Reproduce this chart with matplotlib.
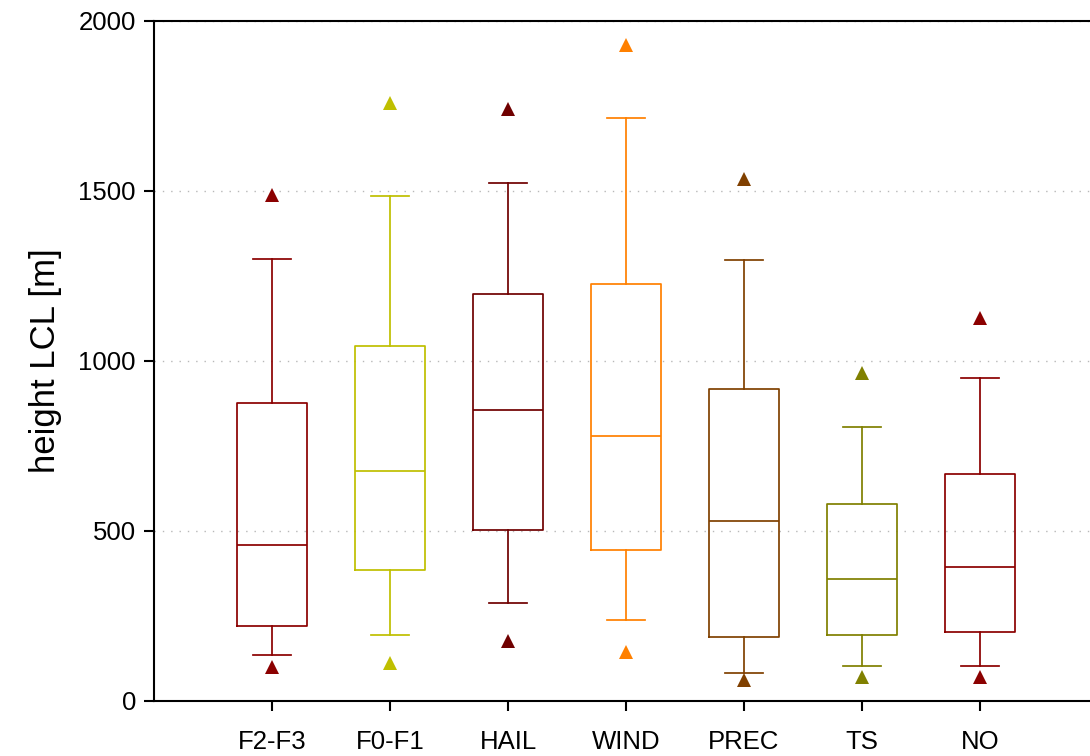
import matplotlib
matplotlib.use("Agg")
import matplotlib.pyplot as plt

plt.rcParams['font.family'] = ['Liberation Sans', 'DejaVu Sans']

# box statistics per storm category (m)
categories = ['F2-F3', 'F0-F1', 'HAIL', 'WIND', 'PREC', 'TS', 'NO']
whislo = [134, 195, 288, 239, 81, 103, 103]
q1 = [221, 385, 502, 443, 188, 194, 203]
med = [460, 676, 855, 778, 530, 360, 393]
q3 = [876, 1045, 1196, 1227, 918, 580, 668]
whishi = [1301, 1485, 1524, 1714, 1298, 807, 949]
out_low = [100, 113, 176, 145, 62, 72, 71]
out_high = [1488, 1759, 1741, 1929, 1534, 966, 1126]

colors = ['#8b0000', '#bfbf00', '#700000', '#ff8000', '#804000', '#808000', '#8b0000']

fig = plt.figure(figsize=(10.9, 7.56), dpi=100)
ax = fig.add_axes([154 / 1090, 55 / 756, 944 / 1090, 680 / 756])

stats = []
for i, c in enumerate(categories):
    stats.append(dict(label=c, whislo=whislo[i], q1=q1[i], med=med[i],
                      q3=q3[i], whishi=whishi[i], fliers=[]))

positions = list(range(1, len(categories) + 1))
for i, s in enumerate(stats):
    col = colors[i]
    lp = dict(color=col, linewidth=1.25)
    ax.bxp([s], positions=[positions[i]], widths=0.6, capwidths=0.33,
           showfliers=False, boxprops=lp, whiskerprops=lp, capprops=lp,
           medianprops=lp, manage_ticks=False)
    ax.plot([positions[i], positions[i]], [out_low[i], out_high[i]],
            linestyle='none', marker='^', markersize=9.5, color=col,
            markeredgewidth=0, zorder=3)

ax.set_xlim(0, 8)
ax.set_ylim(0, 2000)
ax.set_xticks(positions)
ax.set_xticklabels(categories)
ax.set_yticks([0, 500, 1000, 1500, 2000])

ax.yaxis.grid(True, color='#b8b8b8', linestyle=(0, (1, 5)), linewidth=1.0)
ax.set_axisbelow(True)

for side in ['left', 'bottom', 'top']:
    ax.spines[side].set_linewidth(1.5)
ax.spines['right'].set_visible(False)
ax.tick_params(axis='both', direction='out', length=7, width=1.5,
               labelsize=18.5, pad=6)
ax.tick_params(axis='x', pad=14)

ax.set_ylabel('height LCL [m]', fontsize=25, labelpad=12)

fig.savefig('out.png', dpi=100)
